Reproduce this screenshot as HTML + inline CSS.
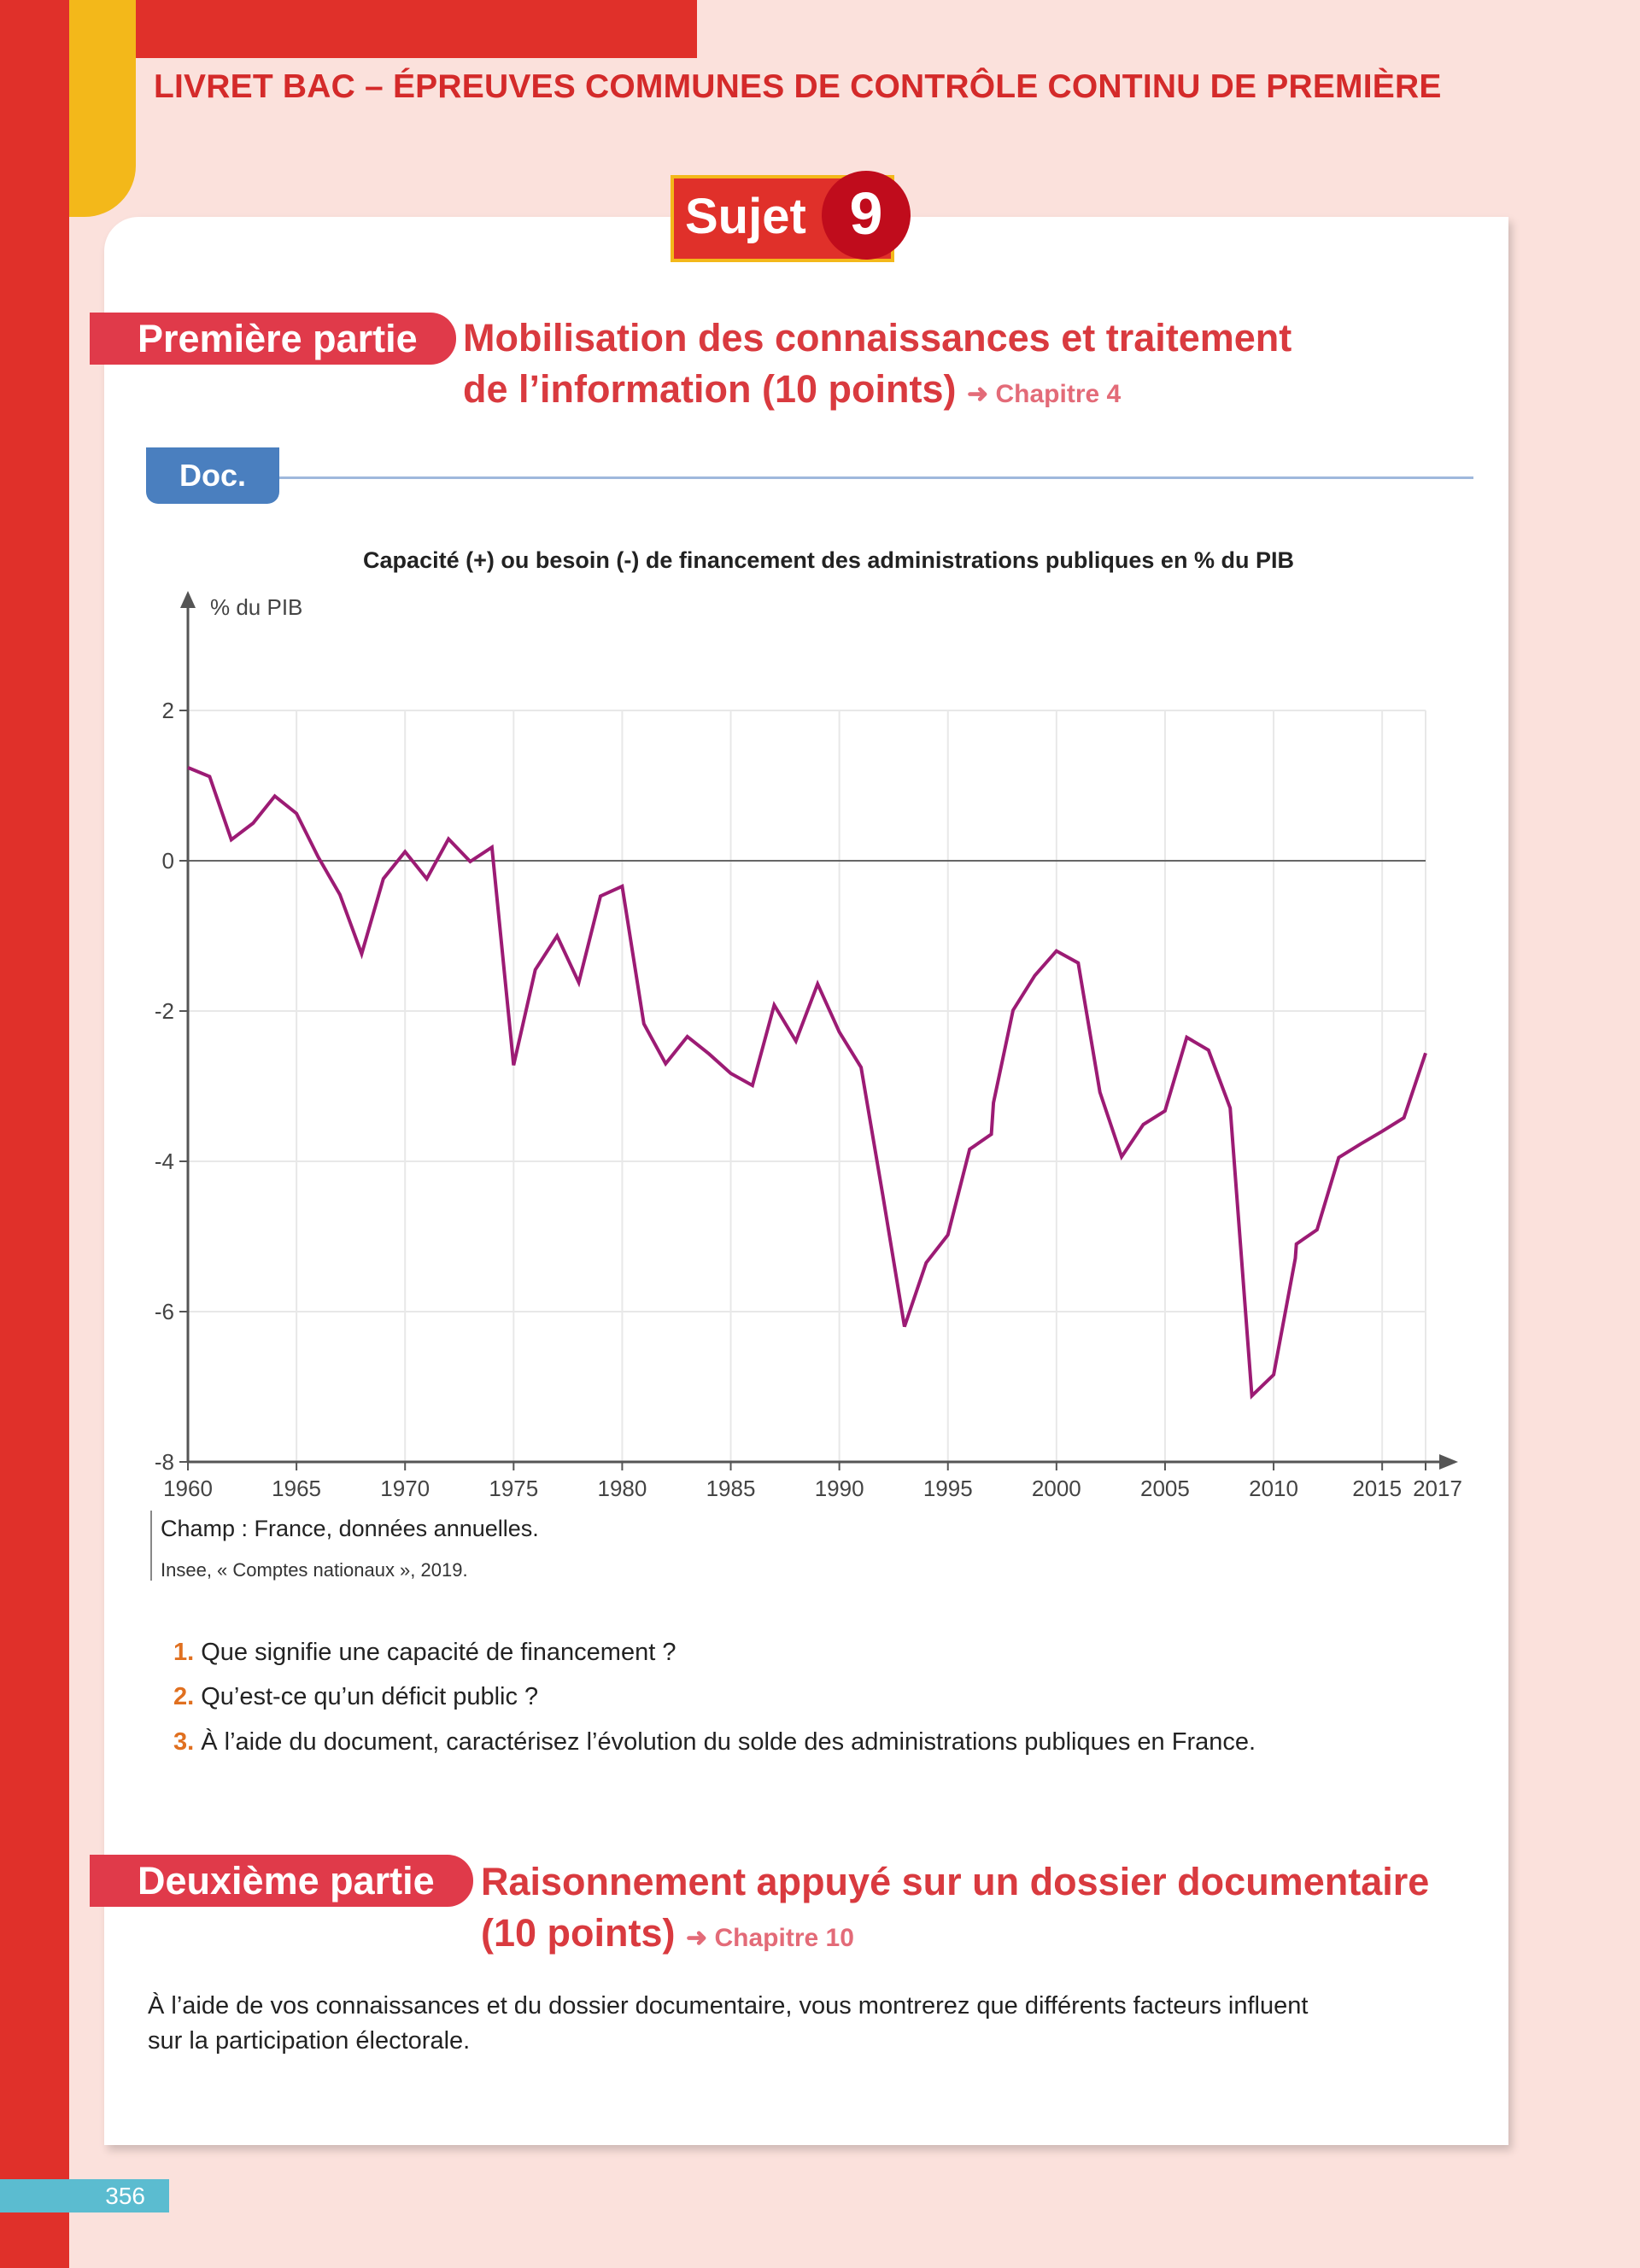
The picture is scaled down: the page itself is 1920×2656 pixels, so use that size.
<!DOCTYPE html>
<html><head><meta charset="utf-8"><style>
html,body{margin:0;padding:0}
body{width:1920px;height:2656px;background:#fbe1dc;position:relative;overflow:hidden;font-family:"Liberation Sans",sans-serif}
.abs{position:absolute}
.red{color:#d93a3f}
</style></head><body>
<div class="abs" style="left:0;top:0;width:81px;height:2656px;background:#e0302a"></div>
<div class="abs" style="left:81px;top:0;width:735px;height:68px;background:#e0302a"></div>
<div class="abs" style="left:81px;top:0;width:78px;height:254px;background:#f3b81a;border-bottom-right-radius:60px"></div>
<div class="abs" style="left:180px;top:80px;font-size:39px;font-weight:bold;color:#d42a2a;white-space:nowrap;letter-spacing:0.2px">LIVRET BAC – ÉPREUVES COMMUNES DE CONTRÔLE CONTINU DE PREMIÈRE</div>

<div class="abs" style="left:122px;top:254px;width:1644px;height:2258px;background:#fff;border-top-left-radius:40px;box-shadow:4px 6px 10px rgba(0,0,0,0.18)"></div>

<div class="abs" style="left:785px;top:205px;width:262px;height:102px;background:#e0302a;border:4px solid #f3b81a;box-sizing:border-box"></div>
<div class="abs" style="left:802px;top:220px;font-size:58px;font-weight:bold;color:#fff">Sujet</div>
<div class="abs" style="left:962px;top:200px;width:104px;height:104px;border-radius:52px;background:#c00c1c;color:#fff;font-size:70px;font-weight:bold;text-align:center;line-height:100px">9</div>

<div class="abs" style="left:105px;top:366px;width:429px;height:61px;background:#e03a4a;border-radius:0 30px 30px 0;color:#fff;font-size:45px;font-weight:bold;line-height:61px;text-indent:56px">Première partie</div>
<div class="abs red" style="left:542px;top:366px;font-size:45px;font-weight:bold;line-height:60px;white-space:nowrap">Mobilisation des connaissances et traitement<br>de l’information (10 points) <span style="font-size:30px;color:#e36b78">➜ Chapitre 4</span></div>

<div class="abs" style="left:171px;top:524px;width:156px;height:66px;background:#4a7fbf;border-radius:0 0 14px 14px;color:#fff;font-size:36px;font-weight:bold;line-height:66px;text-align:center">Doc.</div>
<div class="abs" style="left:327px;top:558px;width:1398px;height:3px;background:#9fb8dc"></div>

<div class="abs" style="left:0;width:1920px;top:641px;text-align:center;font-size:27px;font-weight:bold;color:#222;padding-left:10px">Capacité (+) ou besoin (-) de financement des administrations publiques en % du PIB</div>

<svg class="abs" style="left:0;top:0" width="1920" height="1800" id="chart"></svg>

<div class="abs" style="left:176px;top:1769px;width:2px;height:82px;background:#888"></div>
<div class="abs" style="left:188px;top:1775px;font-size:27px;color:#222">Champ : France, données annuelles.</div>
<div class="abs" style="left:188px;top:1826px;font-size:22px;color:#333">Insee, « Comptes nationaux », 2019.</div>

<div class="abs" style="left:203px;top:1919px;font-size:29px;color:#222"><b style="color:#e07020">1.</b> Que signifie une capacité de financement ?</div>
<div class="abs" style="left:203px;top:1971px;font-size:29px;color:#222"><b style="color:#e07020">2.</b> Qu’est-ce qu’un déficit public ?</div>
<div class="abs" style="left:203px;top:2024px;font-size:29px;color:#222"><b style="color:#e07020">3.</b> À l’aide du document, caractérisez l’évolution du solde des administrations publiques en France.</div>

<div class="abs" style="left:105px;top:2172px;width:449px;height:61px;background:#e03a4a;border-radius:0 30px 30px 0;color:#fff;font-size:45px;font-weight:bold;line-height:61px;text-indent:56px">Deuxième partie</div>
<div class="abs red" style="left:563px;top:2174px;font-size:45px;font-weight:bold;line-height:60px;white-space:nowrap">Raisonnement appuyé sur un dossier documentaire<br>(10 points) <span style="font-size:30px;color:#e36b78">➜ Chapitre 10</span></div>
<div class="abs" style="left:173px;top:2329px;font-size:29px;color:#222;line-height:41px">À l’aide de vos connaissances et du dossier documentaire, vous montrerez que différents facteurs influent<br>sur la participation électorale.</div>

<div class="abs" style="left:0;top:2552px;width:198px;height:39px;background:#5bbcd0;color:#fff;font-size:28px;line-height:39px;text-align:right;padding-right:28px;box-sizing:border-box">356</div>

<script>
const years=[1960,1961,1962,1963,1964,1965,1966,1967,1968,1969,1970,1971,1972,1973,1974,1975,1976,1977,1978,1979,1980,1981,1982,1983,1984,1985,1986,1987,1988,1989,1990,1991,1992,1993,1994,1995,1996,1997,1997.1,1998,1999,2000,2001,2002,2003,2004,2005,2006,2007,2008,2009,2010,2011,2011.05,2012,2013,2014,2015,2016,2017];
const values=[1.24,1.12,0.28,0.5,0.86,0.63,0.05,-0.45,-1.24,-0.24,0.12,-0.24,0.29,-0.01,0.18,-2.72,-1.45,-1.0,-1.62,-0.47,-0.34,-2.17,-2.7,-2.34,-2.57,-2.83,-2.99,-1.92,-2.4,-1.64,-2.28,-2.75,-4.45,-6.2,-5.35,-4.98,-3.84,-3.64,-3.22,-1.99,-1.53,-1.2,-1.36,-3.08,-3.94,-3.51,-3.33,-2.35,-2.52,-3.29,-7.12,-6.84,-5.29,-5.1,-4.91,-3.95,-3.77,-3.6,-3.42,-2.56];
const xTicks=[1960,1965,1970,1975,1980,1985,1990,1995,2000,2005,2010,2015,2017];
const yTicks=[2,0,-2,-4,-6,-8];
const X0=220,X1=1669,Y0=1712,Y1=832;
const xs=v=>X0+(v-1960)/(2017-1960)*(X1-X0);
const ys=v=>Y0-(v+8)/10*(Y0-Y1);
const svg=document.getElementById('chart');const NS='http://www.w3.org/2000/svg';
function mk(t,a){const e=document.createElementNS(NS,t);for(const k in a)e.setAttribute(k,a[k]);svg.appendChild(e);return e;}
yTicks.forEach(v=>{if(v!==-8&&v!==0){const g=mk('line',{x1:X0,x2:X1,y1:ys(v),y2:ys(v),stroke:'#e8e8e8','stroke-width':2});

}
const t=mk('line',{x1:X0-10,x2:X0,y1:ys(v),y2:ys(v),stroke:'#555','stroke-width':2});


const l=mk('text',{x:X0-16,y:ys(v)+9,'text-anchor':'end','font-size':26,fill:'#444','font-family':'Liberation Sans, sans-serif'});l.textContent=v;

});
xTicks.forEach(v=>{if(v!==1960){const g=mk('line',{x1:xs(v),x2:xs(v),y1:Y1,y2:Y0,stroke:'#e8e8e8','stroke-width':2});

}
const t=mk('line',{x1:xs(v),x2:xs(v),y1:Y0,y2:Y0+10,stroke:'#555','stroke-width':2});


const l=mk('text',{x:xs(v)+(v===2017?14:(v===2015?-6:0)),y:Y0+40,'text-anchor':'middle','font-size':26,fill:'#444','font-family':'Liberation Sans, sans-serif'});l.textContent=v;

});
const z=mk('line',{x1:X0,x2:X1,y1:ys(0),y2:ys(0),stroke:'#666','stroke-width':2});


const ya=mk('line',{x1:X0,x2:X0,y1:Y0,y2:705,stroke:'#555','stroke-width':3});


const yh=mk('polygon',{points:`${X0-9},712 ${X0+9},712 ${X0},692`,fill:'#555'});


const xa=mk('line',{x1:X0,x2:1690,y1:Y0,y2:Y0,stroke:'#555','stroke-width':3});


const xh=mk('polygon',{points:`1685,${Y0-9} 1685,${Y0+9} 1707,${Y0}`,fill:'#555'});


const yt=mk('text',{x:246,y:720,'font-size':26,fill:'#444','font-family':'Liberation Sans, sans-serif'});yt.textContent='% du PIB';


const p=mk('polyline',{points:years.map((y,i)=>xs(y).toFixed(1)+','+ys(values[i]).toFixed(1)).join(' '),fill:'none',stroke:'#9c1b74','stroke-width':4,'stroke-linejoin':'miter'});


</script>
</body></html>
